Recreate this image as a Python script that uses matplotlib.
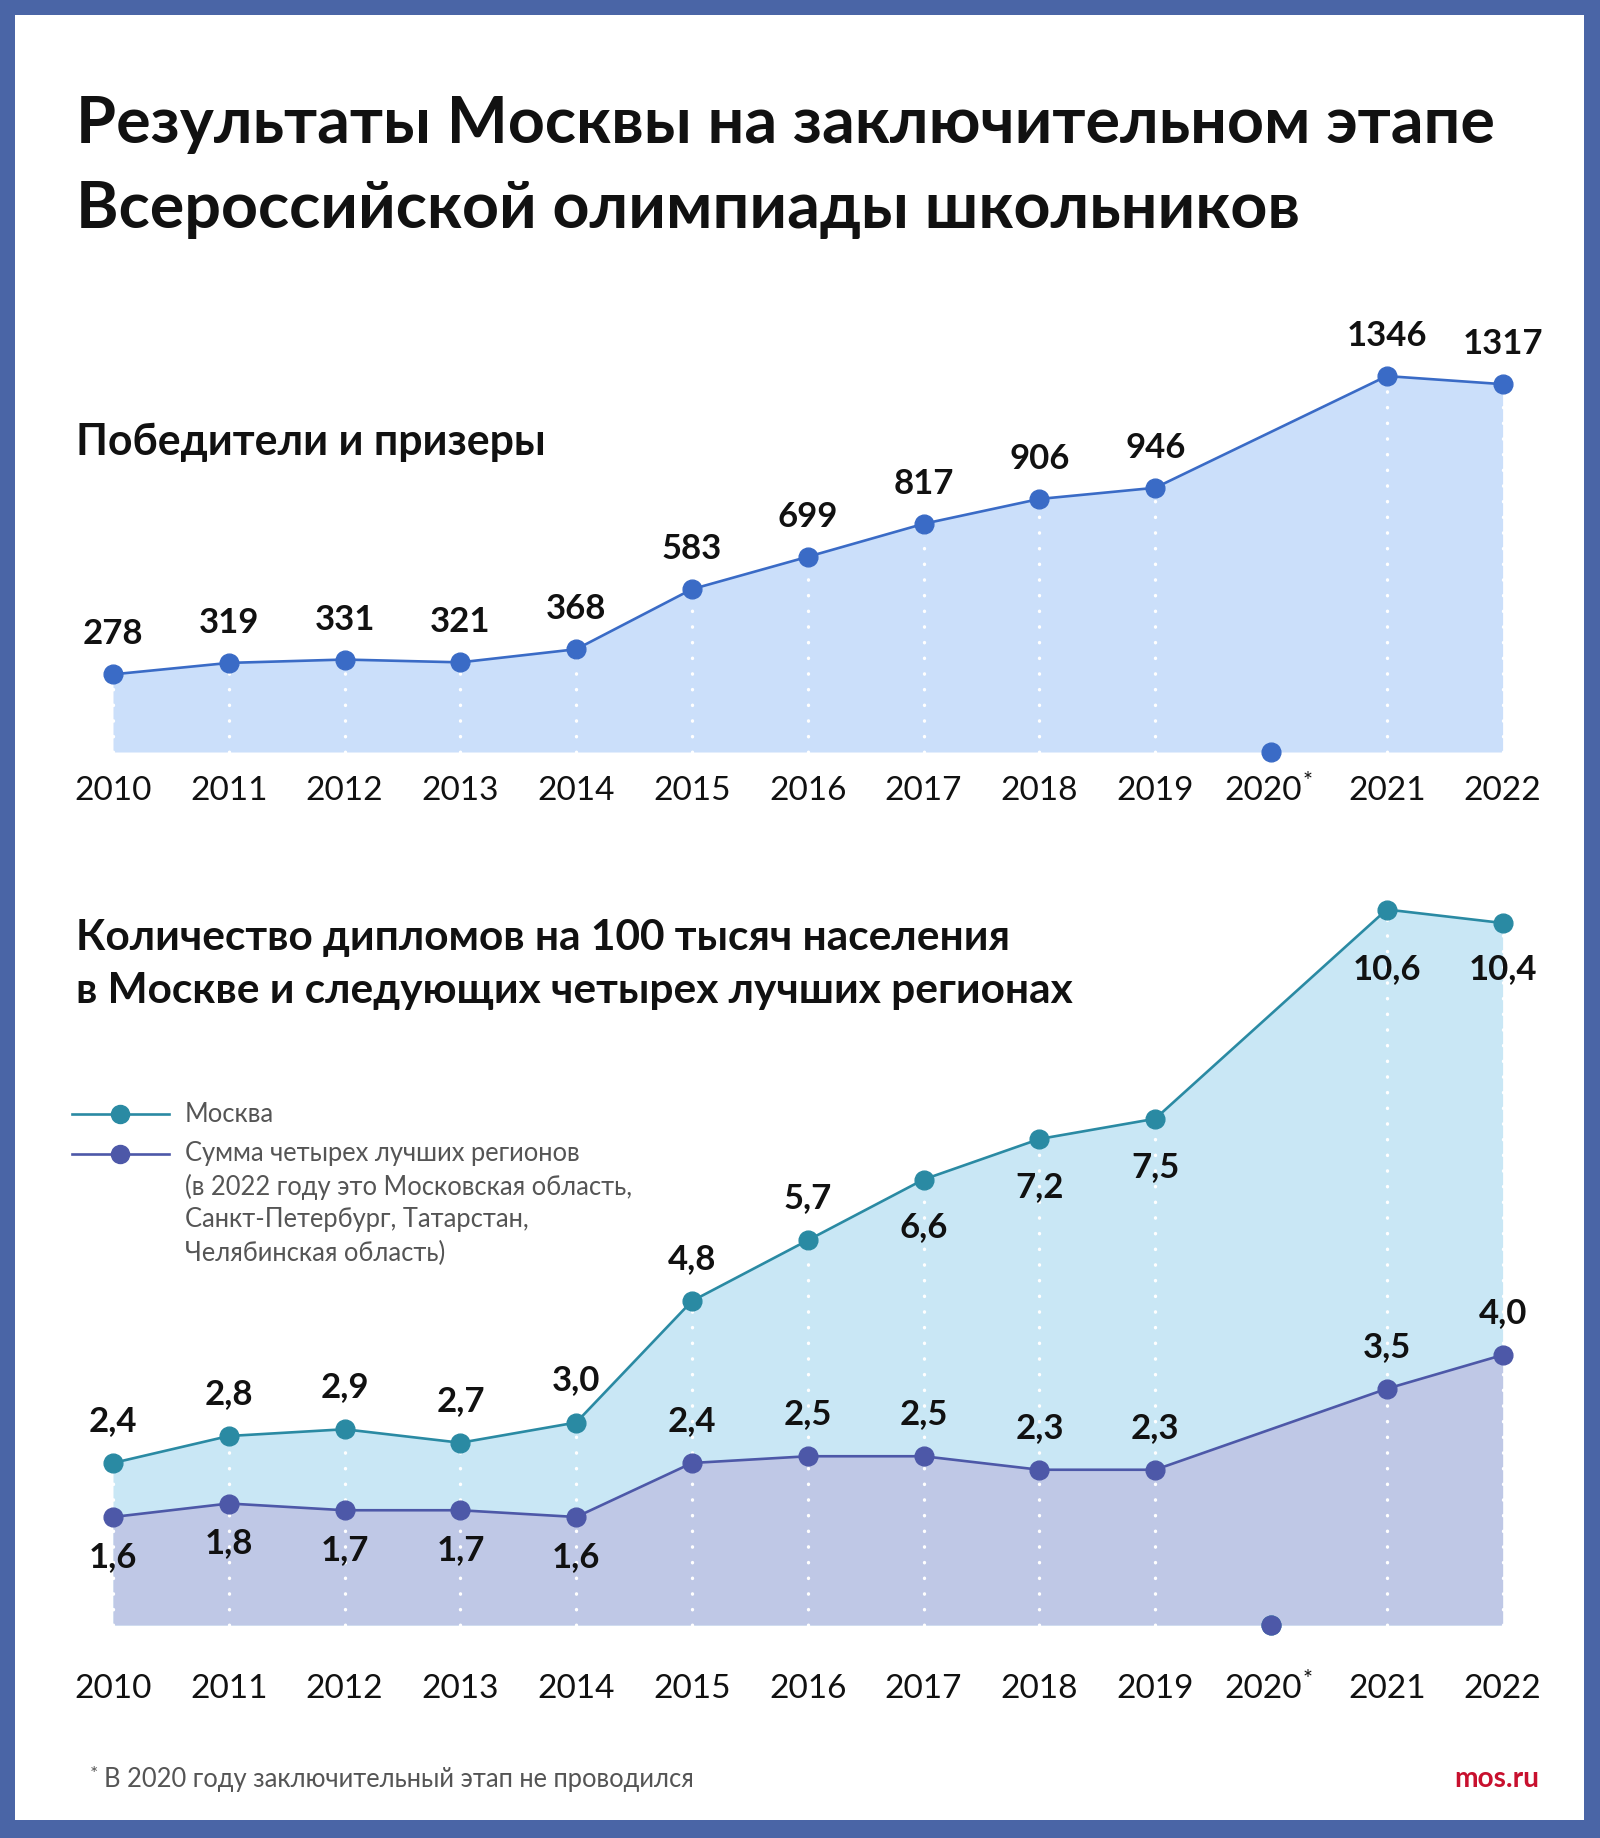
import matplotlib
matplotlib.use('Agg')
import matplotlib.pyplot as plt
from matplotlib.patches import Rectangle

plt.rcParams['font.family'] = ['Lato', 'DejaVu Sans']

# ---------------- data ----------------
years = ['2010', '2011', '2012', '2013', '2014', '2015', '2016',
         '2017', '2018', '2019', '2020', '2021', '2022']
winners = [278, 319, 331, 321, 368, 583, 699, 817, 906, 946, None, 1346, 1317]
moscow = [2.4, 2.8, 2.9, 2.7, 3.0, 4.8, 5.7, 6.6, 7.2, 7.5, None, 10.6, 10.4]
regions = [1.6, 1.8, 1.7, 1.7, 1.6, 2.4, 2.5, 2.5, 2.3, 2.3, None, 3.5, 4.0]

title_lines = ['Результаты Москвы на заключительном этапе',
               'Всероссийской олимпиады школьников']
sub1 = 'Победители и призеры'
sub2_lines = ['Количество дипломов на 100 тысяч населения',
              'в Москве и следующих четырех лучших регионах']
legend_moscow = 'Москва'
legend_regions = ['Сумма четырех лучших регионов',
                  '(в 2022 году это Московская область,',
                  'Санкт-Петербург, Татарстан,',
                  'Челябинская область)']
footnote = 'В 2020 году заключительный этап не проводился'
source = 'mos.ru'

# label placement (style): a = above, b = below
top_pos = ['a'] * 13
moscow_pos = ['a'] * 7 + ['b', 'b', 'b', None, 'b', 'b']
regions_pos = ['b'] * 5 + ['a'] * 5 + [None, 'a', 'a']
moscow_below_off = [-32] * 11 + [-44, -30]

# ---------------- style ----------------
BORDER = '#4a65a6'
TOP_LINE = '#3a6bc6'
TOP_FILL = '#cbdffa'
MOS_LINE = '#2a8aa3'
MOS_FILL = '#c9e7f5'
REG_LINE = '#4d58a8'
REG_FILL = '#bfc8e6'
TXT = '#111111'
GRAY = '#555555'

W, H = 1600, 1838
fig = plt.figure(figsize=(W / 100, H / 100), dpi=100)
fig.patch.set_facecolor(BORDER)

bg = fig.add_axes([0, 0, 1, 1])
bg.set_xlim(0, W)
bg.set_ylim(H, 0)
bg.axis('off')
bg.add_patch(Rectangle((15, 15), 1569, 1805, facecolor='white', edgecolor='none'))


def px_axes(x0, x1, ytop, ybot):
    a = fig.add_axes([x0 / W, 1 - ybot / H, (x1 - x0) / W, (ybot - ytop) / H])
    a.axis('off')
    a.set_xlim(-0.5, 12.5)
    return a


X0, STEP = 113, 115.8
ax1 = px_axes(X0 - 0.5 * STEP, X0 + 12.5 * STEP, 260, 752)
ax1.set_ylim(0, (752 - 260) / 0.2793)
ax2 = px_axes(X0 - 0.5 * STEP, X0 + 12.5 * STEP, 860, 1625)
ax2.set_ylim(0, (1625 - 860) / 67.5)


def fmt_int(v):
    return str(v)


def fmt_dec(v):
    return f'{v:.1f}'.replace('.', ',')


def draw_series(ax, vals, color, fill, z):
    xs = [i for i, v in enumerate(vals) if v is not None]
    ys = [v for v in vals if v is not None]
    ax.fill_between(xs, 0, ys, color=fill, lw=0, zorder=z)
    ax.plot(xs, ys, color=color, lw=1.9, marker='o', ms=13.5, zorder=6,
            clip_on=False)
    miss = [i for i, v in enumerate(vals) if v is None]
    ax.plot(miss, [0] * len(miss), 'o', color=color, ms=13.5, zorder=6,
            clip_on=False)


def dotted(ax, vals):
    for i, v in enumerate(vals):
        if v is None:
            continue
        ax.plot([i, i], [0, v], color='white', lw=2.4, dashes=(0.1, 4.6),
                dash_capstyle='round', zorder=4, clip_on=False)


def value_labels(ax, vals, pos, fmt, above_off=30, below_off=-26):
    if not isinstance(below_off, list):
        below_off = [below_off] * len(vals)
    for i, (v, p) in enumerate(zip(vals, pos)):
        if v is None or p is None:
            continue
        if p == 'a':
            ax.annotate(fmt(v), (i, v), xytext=(0, above_off),
                        textcoords='offset pixels', ha='center', va='baseline',
                        fontsize=25, fontweight='bold', color=TXT, zorder=8)
        else:
            ax.annotate(fmt(v), (i, v), xytext=(0, below_off[i]),
                        textcoords='offset pixels', ha='center', va='top',
                        fontsize=25, fontweight='bold', color=TXT, zorder=8)


def year_labels(ax, off, missing):
    for i, y in enumerate(years):
        shift = -8 if i in missing else 0
        ax.annotate(y, (i, 0), xytext=(shift, -off),
                    textcoords='offset pixels', ha='center', va='baseline',
                    fontsize=24, color=TXT, annotation_clip=False)
        if i in missing:
            ax.annotate('*', (i, 0), xytext=(shift + 40, -off + 12),
                        textcoords='offset pixels', ha='left', va='baseline',
                        fontsize=17, color=TXT, annotation_clip=False)


missing_idx = [i for i, v in enumerate(winners) if v is None]

# ---- top chart ----
draw_series(ax1, winners, TOP_LINE, TOP_FILL, 1)
dotted(ax1, winners)
value_labels(ax1, winners, top_pos, fmt_int)
year_labels(ax1, 48, missing_idx)

# ---- bottom chart ----
draw_series(ax2, moscow, MOS_LINE, MOS_FILL, 1)
draw_series(ax2, regions, REG_LINE, REG_FILL, 2)
dotted(ax2, moscow)
value_labels(ax2, moscow, moscow_pos, fmt_dec, 32, moscow_below_off)
value_labels(ax2, regions, regions_pos, fmt_dec, 32, -24)
year_labels(ax2, 73, missing_idx)

# ---- texts ----
renderer = fig.canvas.get_renderer()


def fit(t, target):
    w = t.get_window_extent(renderer).width
    t.set_fontsize(t.get_fontsize() * target / w)


t = bg.text(76, 143, title_lines[0], fontsize=46, fontweight='bold', color=TXT, va='baseline')
fit(t, 1417)
t2 = bg.text(76, 228, title_lines[1], fontsize=t.get_fontsize(), fontweight='bold', color=TXT, va='baseline')

s1 = bg.text(76, 455, sub1, fontsize=25, fontweight='bold', color=TXT, va='baseline')
fit(s1, 470)

s2 = bg.text(76, 950, sub2_lines[0], fontsize=25, fontweight='bold', color=TXT, va='baseline')
fit(s2, 935)
bg.text(76, 1003, sub2_lines[1], fontsize=s2.get_fontsize(), fontweight='bold', color=TXT, va='baseline')

# legend
bg.plot([72, 169], [1114, 1114], color=MOS_LINE, lw=1.9)
bg.plot([120], [1114], 'o', color=MOS_LINE, ms=13)
bg.plot([72, 169], [1154, 1154], color=REG_LINE, lw=1.9)
bg.plot([120], [1154], 'o', color=REG_LINE, ms=13)
lt = bg.text(185, 1114, legend_moscow, fontsize=17, color=GRAY, va='center')
lr = bg.text(185, 1154, legend_regions[0], fontsize=17, color=GRAY, va='center')
fit(lr, 395)
lt.set_fontsize(lr.get_fontsize())
for k, line in enumerate(legend_regions[1:]):
    bg.text(185, 1154 + 33 * (k + 1), line, fontsize=lr.get_fontsize(), color=GRAY, va='center')

bg.text(90, 1780, '*', fontsize=14, color=GRAY, va='baseline')
fn = bg.text(104, 1787, footnote, fontsize=17, color=GRAY, va='baseline')
fit(fn, 590)
src = bg.text(1539, 1787, source, fontsize=18, fontweight='bold', color='#c8102e',
              va='baseline', ha='right')
fit(src, 85)

fig.savefig('out.png', dpi=100, facecolor=fig.get_facecolor())
